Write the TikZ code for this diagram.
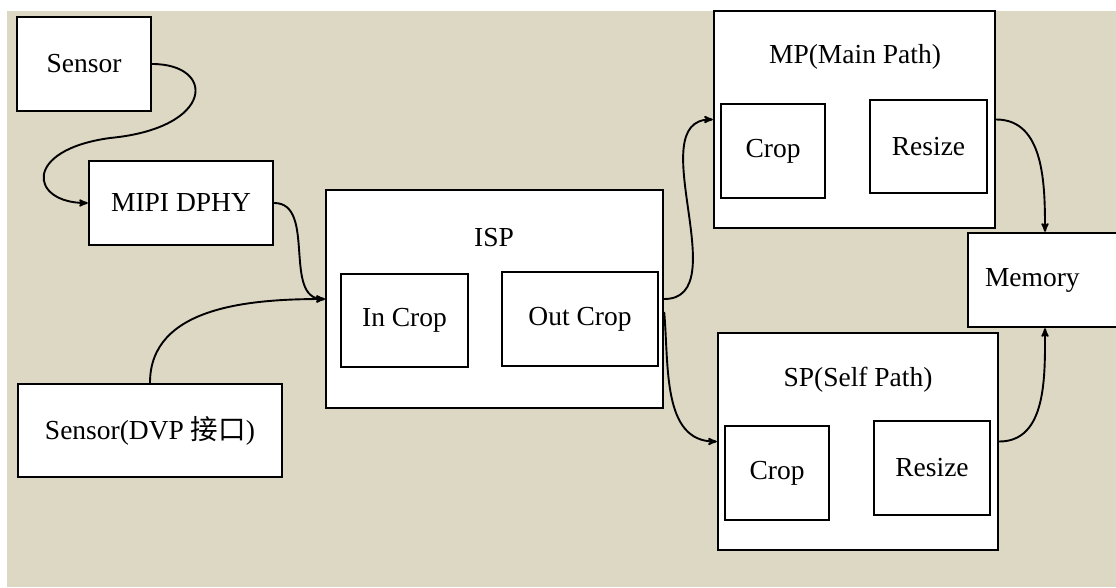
\documentclass[tikz,border=0pt]{standalone}
\usepackage{fontspec}
\setmainfont{Liberation Serif}
\newfontfamily\cjk{Noto Sans CJK SC}
\usetikzlibrary{arrows}
\usetikzlibrary{positioning}
\definecolor{paper}{RGB}{221,216,196}

\begin{document}
\begin{tikzpicture}[x = 1pt, y = 1pt, > = stealth', font = \fontsize{27.5}{33}\selectfont]
\tikzset{
  block/.style = {draw, fill = white, rectangle, line width = 2.4pt, inner sep = 0pt},
  title/.style = {inner sep = 0pt},
  wire/.style = {->, line width = 1.9pt},
}
\useasboundingbox (0,0) rectangle (1116,-587);
\fill [white] (0,0) rectangle (1116,-587);
\fill [paper] (7,-11) rectangle (1116,-587);

\node [block, minimum width = 134, minimum height = 94] (sensor) at (84,-64) {Sensor};
\node [block, minimum width = 184, minimum height = 84] (mipiDphy) at (181,-203) {MIPI DPHY};
\node [block, minimum width = 264, minimum height = 93] (dvpSensor) at (150,-430.5) {Sensor(DVP {\cjk 接口})};

\node [block, minimum width = 337, minimum height = 218] (isp) at (494.5,-299) {};
\node [title] (ispTitle) at (494,-238) {ISP};
\node [block, minimum width = 127, minimum height = 93] (inCrop) at (404.5,-320.5) {In Crop};
\node [block, minimum width = 156, minimum height = 94] (outCrop) at (580,-319) {Out Crop};

\node [block, minimum width = 281, minimum height = 217] (mainPath) at (854.5,-119.5) {};
\node [title] (mpTitle) at (855,-57) {MP(Main Path)};
\node [block, minimum width = 104, minimum height = 94] (mpCrop) at (773,-151) {Crop};
\node [block, minimum width = 117, minimum height = 93] (mpResize) at (928.5,-146.5) {Resize};

\node [block, minimum width = 280, minimum height = 217] (selfPath) at (858,-441.5) {};
\node [title] (spTitle) at (858,-380) {SP(Self Path)};
\node [block, minimum width = 104, minimum height = 94] (spCrop) at (777,-473) {Crop};
\node [block, minimum width = 116, minimum height = 94] (spResize) at (932,-468) {Resize};

\node [block, minimum height = 94, text width = 120, inner xsep = 17pt, align = left] (memory) at (1045,-280) {Memory};

\coordinate (loop) at (110,-138);
\draw [wire] (sensor.east) .. controls +(64,0) and +(105,10) .. (loop)
  .. controls +(-88,-12) and +(-58,0) .. (mipiDphy.west);
\draw [wire] (mipiDphy.east) to [out = 0, in = 180] (isp.west);
\draw [wire] (dvpSensor.north) to [out = 90, in = 180] (isp.west);
\draw [wire] (isp.east) to [out = 0, in = 180] (mainPath.west);
\draw [wire] ([yshift = -13pt]isp.east) to [out = -85, in = 180] (selfPath.west);
\draw [wire] (mainPath.east) to [out = 0, in = 90] (memory.north);
\draw [wire] (selfPath.east) to [out = 0, in = -90] (memory.south);
\end{tikzpicture}
\end{document}
